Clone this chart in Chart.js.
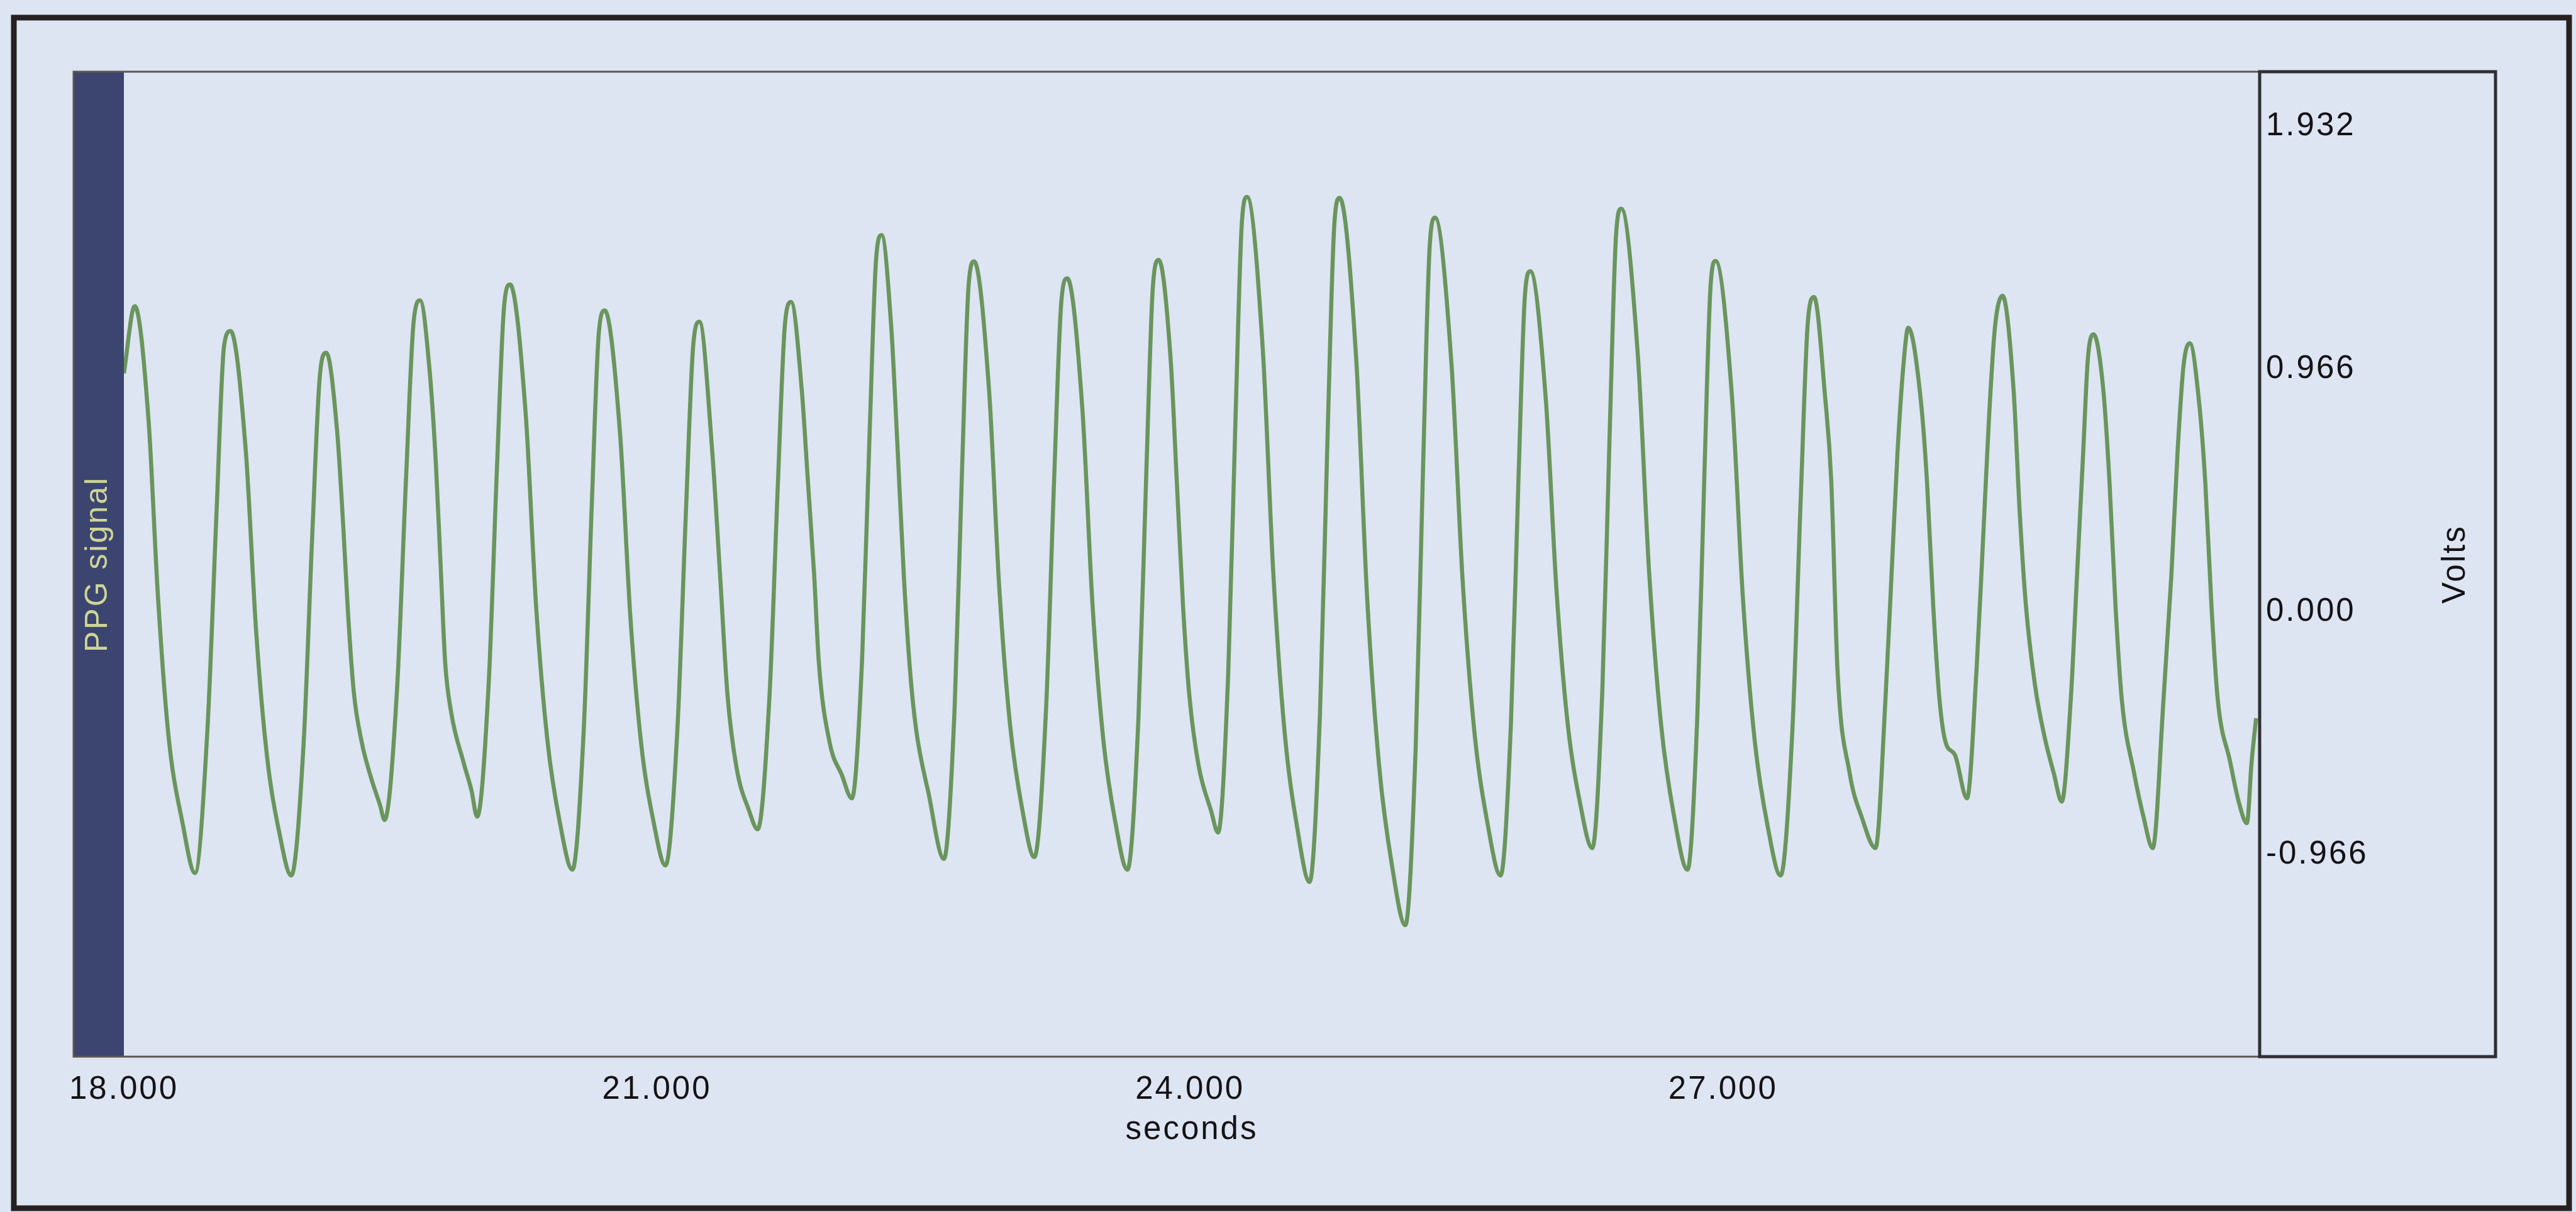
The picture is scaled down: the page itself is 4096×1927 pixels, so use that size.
<!DOCTYPE html>
<html>
<head>
<meta charset="utf-8">
<title>PPG signal</title>
<script src="https://cdn.jsdelivr.net/npm/chart.js@4.4.1/dist/chart.umd.min.js"></script>
<style>
  html, body { margin: 0; padding: 0; background: #dde4f2; overflow: hidden; }
  #ppg { display: block; background: #dde4f2; }
</style>
</head>
<body>
<canvas id="ppg" width="4096" height="1927"></canvas>
<script>
// PPG trace: time in seconds, amplitude in volts
const timeSec = [
  18.000, 18.061, 18.139, 18.191, 18.252, 18.330, 18.400,
  18.470, 18.521, 18.564, 18.600, 18.686, 18.744, 18.805, 18.874, 18.942,
  19.011, 19.060, 19.104, 19.139, 19.200, 19.233, 19.261, 19.294, 19.339, 19.391, 19.442, 19.467,
  19.537, 19.587, 19.631, 19.667, 19.721, 19.756, 19.782, 19.808, 19.842, 19.912, 19.956, 19.988,
  20.053, 20.099, 20.140, 20.173, 20.261, 20.320, 20.384, 20.454, 20.524,
  20.588, 20.633, 20.673, 20.706, 20.792, 20.850, 20.911, 20.980, 21.048,
  21.115, 21.163, 21.205, 21.239, 21.311, 21.355, 21.397, 21.448, 21.518, 21.567,
  21.633, 21.680, 21.721, 21.755, 21.815, 21.850, 21.885, 21.911, 21.972, 22.041, 22.097,
  22.155, 22.197, 22.234, 22.264, 22.319, 22.355, 22.389, 22.424, 22.459, 22.528, 22.615,
  22.675, 22.717, 22.754, 22.785, 22.870, 22.927, 22.988, 23.056, 23.124,
  23.189, 23.235, 23.276, 23.309, 23.394, 23.451, 23.512, 23.580, 23.648,
  23.710, 23.754, 23.792, 23.824, 23.891, 23.926, 23.961, 23.996, 24.048, 24.118, 24.158,
  24.215, 24.256, 24.292, 24.321, 24.409, 24.469, 24.532, 24.603, 24.673,
  24.732, 24.774, 24.812, 24.842, 24.935, 24.997, 25.064, 25.138, 25.212,
  25.270, 25.312, 25.349, 25.379, 25.471, 25.534, 25.600, 25.674, 25.748,
  25.806, 25.848, 25.885, 25.915, 26.002, 26.062, 26.124, 26.194, 26.264,
  26.321, 26.362, 26.398, 26.427, 26.520, 26.584, 26.651, 26.725, 26.800,
  26.855, 26.895, 26.930, 26.958, 27.050, 27.112, 27.178, 27.251, 27.324,
  27.390, 27.437, 27.478, 27.512, 27.575, 27.609, 27.644, 27.712, 27.782, 27.858,
  27.914, 27.948, 27.982, 28.018, 28.042, 28.114, 28.148, 28.183, 28.218, 28.253, 28.305, 28.373,
  28.427, 28.462, 28.496, 28.530, 28.573, 28.635, 28.670, 28.705, 28.757, 28.809, 28.862, 28.906,
  28.957, 28.992, 29.027, 29.053, 29.085, 29.140, 29.175, 29.209, 29.244, 29.314, 29.366, 29.418,
  29.479, 29.523, 29.558, 29.592, 29.627, 29.679, 29.714, 29.749, 29.784, 29.853, 29.906, 29.948,
  29.975, 30.000
];
const ppgVolts = [
  0.95, 1.217, 0.76, 0.07, -0.50, -0.84, -1.039,
  -0.47, 0.39, 1.06, 1.118, 0.641, -0.074, -0.572, -0.876, -1.049,
  -0.529, 0.304, 0.949, 1.032, 0.72, 0.36, 0.00, -0.32, -0.52, -0.66, -0.77, -0.828,
  -0.311, 0.516, 1.157, 1.240, 0.957, 0.588, 0.194, -0.20, -0.40, -0.60, -0.71, -0.815,
  -0.285, 0.562, 1.218, 1.303, 0.791, 0.022, -0.514, -0.840, -1.026,
  -0.469, 0.421, 1.111, 1.200, 0.714, -0.015, -0.523, -0.832, -1.009,
  -0.468, 0.398, 1.068, 1.155, 0.64, 0.15, -0.33, -0.62, -0.79, -0.865,
  -0.340, 0.499, 1.150, 1.234, 0.884, 0.515, 0.145, -0.20, -0.52, -0.65, -0.742,
  -0.181, 0.715, 1.410, 1.500, 1.13, 0.64, 0.15, -0.23, -0.47, -0.72, -0.983,
  -0.388, 0.563, 1.300, 1.395, 0.873, 0.091, -0.454, -0.786, -0.976,
  -0.400, 0.522, 1.236, 1.328, 0.810, 0.033, -0.508, -0.838, -1.026,
  -0.419, 0.552, 1.304, 1.401, 1.006, 0.515, 0.021, -0.33, -0.61, -0.79, -0.878,
  -0.245, 0.767, 1.551, 1.652, 1.052, 0.152, -0.475, -0.857, -1.075,
  -0.394, 0.695, 1.539, 1.648, 1.011, 0.056, -0.610, -1.015, -1.247,
  -0.543, 0.583, 1.456, 1.569, 0.993, 0.129, -0.473, -0.840, -1.049,
  -0.448, 0.514, 1.260, 1.356, 0.851, 0.093, -0.435, -0.756, -0.940,
  -0.304, 0.714, 1.503, 1.605, 1.026, 0.158, -0.447, -0.816, -1.026,
  -0.420, 0.549, 1.300, 1.397, 0.859, 0.052, -0.511, -0.853, -1.049,
  -0.473, 0.447, 1.161, 1.253, 0.85, 0.52, -0.23, -0.64, -0.82, -0.940,
  -0.348, 0.145, 0.637, 1.006, 1.131, 0.835, 0.515, 0.021, -0.348, -0.520, -0.569, -0.742,
  -0.225, 0.268, 0.762, 1.131, 1.258, 0.884, 0.391, 0.021, -0.298, -0.496, -0.644, -0.755,
  -0.348, 0.145, 0.637, 1.006, 1.105, 0.884, 0.515, 0.021, -0.348, -0.644, -0.815, -0.940,
  -0.348, 0.145, 0.637, 0.983, 1.069, 0.835, 0.515, 0.021, -0.348, -0.594, -0.766, -0.841,
  -0.594, -0.423
];

const xTickValues = [18, 21, 24, 27];
const yTickValues = [-0.966, 0, 0.966, 1.932];
const xRange = [18, 30.02];
const yRange = [-1.77, 2.15];

const seriesLabel = 'PPG signal';
const xTitle = 'seconds';
const yTitle = 'Volts';

const textColor = '#141214';
const fontFamily = "'Liberation Sans', Arial, sans-serif";
const tickFont = { family: fontFamily, size: 51, lineHeight: 1 };

// boxes round the plot, the right axis panel and the page, plus the rotated "Volts"
const framePlugin = {
  id: 'frames',
  beforeDraw(chart) {
    chart.ctx.letterSpacing = '3px';
  },
  afterDraw(chart) {
    const ctx = chart.ctx;
    const area = chart.chartArea;
    const boxLeft = chart.scales.ppg.left;
    const boxRight = chart.scales.y.right;
    ctx.save();
    ctx.strokeStyle = '#5b5552';
    ctx.lineWidth = 3;
    ctx.strokeRect(boxLeft, area.top, area.right - boxLeft, area.bottom - area.top);

    ctx.strokeStyle = '#2f2f33';
    ctx.lineWidth = 5;
    ctx.strokeRect(area.right, area.top, boxRight - area.right, area.bottom - area.top);

    ctx.strokeStyle = '#272020';
    ctx.lineWidth = 9;
    ctx.strokeRect(22, 28, chart.width - 33, chart.height - 34);

    ctx.translate(boxRight - 63, (area.top + area.bottom) / 2);
    ctx.rotate(-Math.PI / 2);
    ctx.fillStyle = textColor;
    ctx.font = '51px ' + fontFamily;
    ctx.textAlign = 'center';
    ctx.textBaseline = 'middle';
    ctx.fillText(yTitle, 0, 0);
    ctx.restore();
  }
};

const points = timeSec.map((t, i) => ({ x: t, y: ppgVolts[i] }));

new Chart(document.getElementById('ppg'), {
  type: 'line',
  data: {
    datasets: [{
      label: seriesLabel,
      data: points,
      yAxisID: 'y',
      borderColor: '#6a955d',
      borderWidth: 6.5,
      pointRadius: 0,
      cubicInterpolationMode: 'monotone',
      fill: false
    }]
  },
  options: {
    responsive: false,
    animation: false,
    devicePixelRatio: 1,
    layout: {
      padding: { left: 117, right: 128, top: 114, bottom: 0 }
    },
    plugins: {
      legend: { display: false },
      tooltip: { enabled: false }
    },
    scales: {
      x: {
        type: 'linear',
        position: 'bottom',
        min: xRange[0],
        max: xRange[1],
        afterBuildTicks: (scale) => { scale.ticks = xTickValues.map(v => ({ value: v })); },
        afterFit: (scale) => { scale.height = 247; },
        grid: { display: false, drawTicks: false },
        border: { display: false },
        ticks: {
          color: textColor,
          font: tickFont,
          padding: 27,
          maxRotation: 0,
          autoSkip: false,
          callback: (v) => Number(v).toFixed(3)
        },
        title: {
          display: true,
          text: xTitle,
          color: textColor,
          font: tickFont,
          padding: { top: 0, bottom: 105 }
        }
      },
      y: {
        type: 'linear',
        position: 'right',
        min: yRange[0],
        max: yRange[1],
        afterBuildTicks: (scale) => { scale.ticks = yTickValues.map(v => ({ value: v })); },
        afterFit: (scale) => { scale.width = 375; },
        grid: { display: false, drawTicks: false },
        border: { display: false },
        ticks: {
          color: textColor,
          font: tickFont,
          padding: 10,
          callback: (v) => Number(v).toFixed(3)
        }
      },
      ppg: {
        type: 'linear',
        position: 'left',
        display: true,
        backgroundColor: '#3c4470',
        afterFit: (scale) => { scale.width = 80; },
        grid: { display: false, drawTicks: false },
        border: { display: false },
        ticks: { display: false },
        title: {
          display: true,
          text: seriesLabel,
          color: '#cdd596',
          font: { family: fontFamily, size: 50, lineHeight: 1 },
          padding: { top: 14, bottom: 0 }
        }
      }
    }
  },
  plugins: [framePlugin]
});
</script>
</body>
</html>
